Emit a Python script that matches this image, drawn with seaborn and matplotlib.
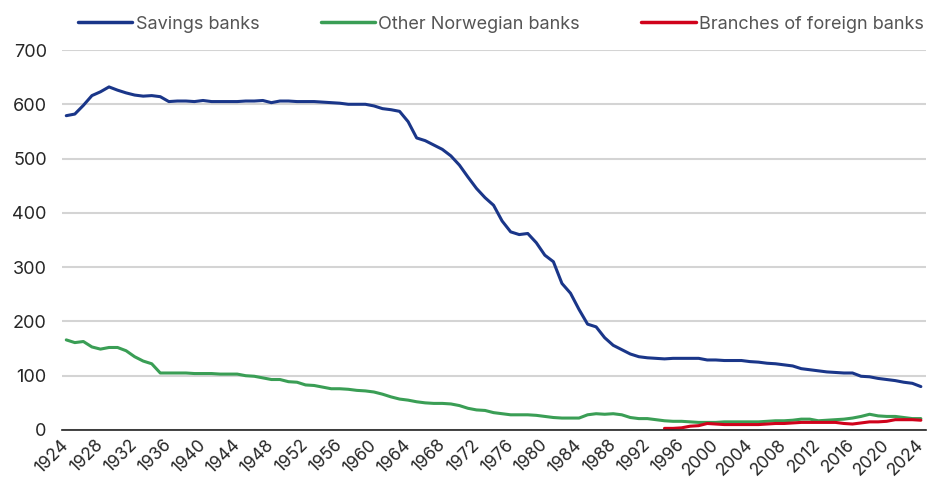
import numpy as np
import pandas as pd
import seaborn as sns
import matplotlib.pyplot as plt

years = list(range(1924, 2025))

savings_banks = [
    579, 582, 598, 616, 623, 632, 626, 621, 617, 615,
    616, 614, 605, 606, 606, 605, 607, 605, 605, 605,
    605, 606, 606, 607, 603, 606, 606, 605, 605, 605,
    604, 603, 602, 600, 600, 600, 597, 592, 590, 587,
    568, 538, 533, 525, 517, 505, 488, 466, 445, 428,
    414, 385, 365, 360, 362, 345, 322, 310, 270, 252,
    222, 195, 190, 170, 156, 148, 140, 135, 133, 132,
    131, 132, 132, 132, 132, 129, 129, 128, 128, 128,
    126, 125, 123, 122, 120, 118, 113, 111, 109, 107,
    106, 105, 105, 99, 98, 95, 93, 91, 88, 86,
    80,
]

other_norwegian = [
    166, 161, 163, 153, 149, 152, 152, 146, 135, 127,
    122, 105, 105, 105, 105, 104, 104, 104, 103, 103,
    103, 100, 99, 96, 93, 93, 89, 88, 83, 82,
    79, 76, 76, 75, 73, 72, 70, 66, 61, 57,
    55, 52, 50, 49, 49, 48, 45, 40, 37, 36,
    32, 30, 28, 28, 28, 27, 25, 23, 22, 22,
    22, 28, 30, 29, 30, 28, 23, 21, 21, 19,
    17, 16, 16, 15, 14, 14, 14, 15, 15, 15,
    15, 15, 16, 17, 17, 18, 20, 20, 17, 18,
    19, 20, 22, 25, 29, 26, 25, 25, 23, 21,
    21,
]

foreign_years = list(range(1994, 2025))
foreign_branches = [
    3, 3, 4, 7, 8, 12, 11, 10, 10, 10,
    10, 10, 11, 12, 12, 13, 14, 14, 14, 14,
    14, 12, 11, 13, 15, 15, 16, 19, 19, 19,
    18,
]

labels = ["Savings banks", "Other Norwegian banks", "Branches of foreign banks"]
colors = ["#1a3689", "#3a9e55", "#d0021b"]

df = pd.concat([
    pd.DataFrame({"year": years, "value": savings_banks, "type": labels[0]}),
    pd.DataFrame({"year": years, "value": other_norwegian, "type": labels[1]}),
    pd.DataFrame({"year": foreign_years, "value": foreign_branches, "type": labels[2]}),
])

sns.set_style("white")
plt.rcParams["font.family"] = ["Inter", "DejaVu Sans"]

fig = plt.figure(figsize=(9.29, 4.84), dpi=100)
ax = fig.add_axes([62 / 929, 54 / 484, 864 / 929, 380 / 484])

sns.lineplot(data=df, x="year", y="value", hue="type", hue_order=labels,
             palette=colors, linewidth=2.2, ax=ax)

ax.set_xlim(1923.5, 2024.6)
ax.set_ylim(0, 700)
ax.set_yticks(range(0, 701, 100))
ax.set_xticks(range(1924, 2025, 4))
ax.tick_params(axis="x", labelrotation=45, labelsize=12.5, length=0, pad=9)
ax.tick_params(axis="y", labelsize=13, length=0, pad=11)
for lbl in ax.get_xticklabels():
    lbl.set_ha("right")
    lbl.set_va("center")
    lbl.set_rotation_mode("anchor")
ax.yaxis.grid(True, color="#d4d4d4", linewidth=1.5)
ax.set_axisbelow(True)
for side in ["top", "right", "left"]:
    ax.spines[side].set_visible(False)
ax.spines["bottom"].set_color("#222222")
ax.spines["bottom"].set_linewidth(1.2)
ax.set_xlabel("")
ax.set_ylabel("")

leg = ax.legend(loc="center", bbox_to_anchor=(0.508, 1.068), ncol=3,
                frameon=False, fontsize=13, handlelength=3.0,
                handletextpad=0.2, columnspacing=3.4)
for t in leg.get_texts():
    t.set_color("#555555")
for h in leg.get_lines():
    h.set_linewidth(2.5)

fig.savefig("out.png", dpi=100)
